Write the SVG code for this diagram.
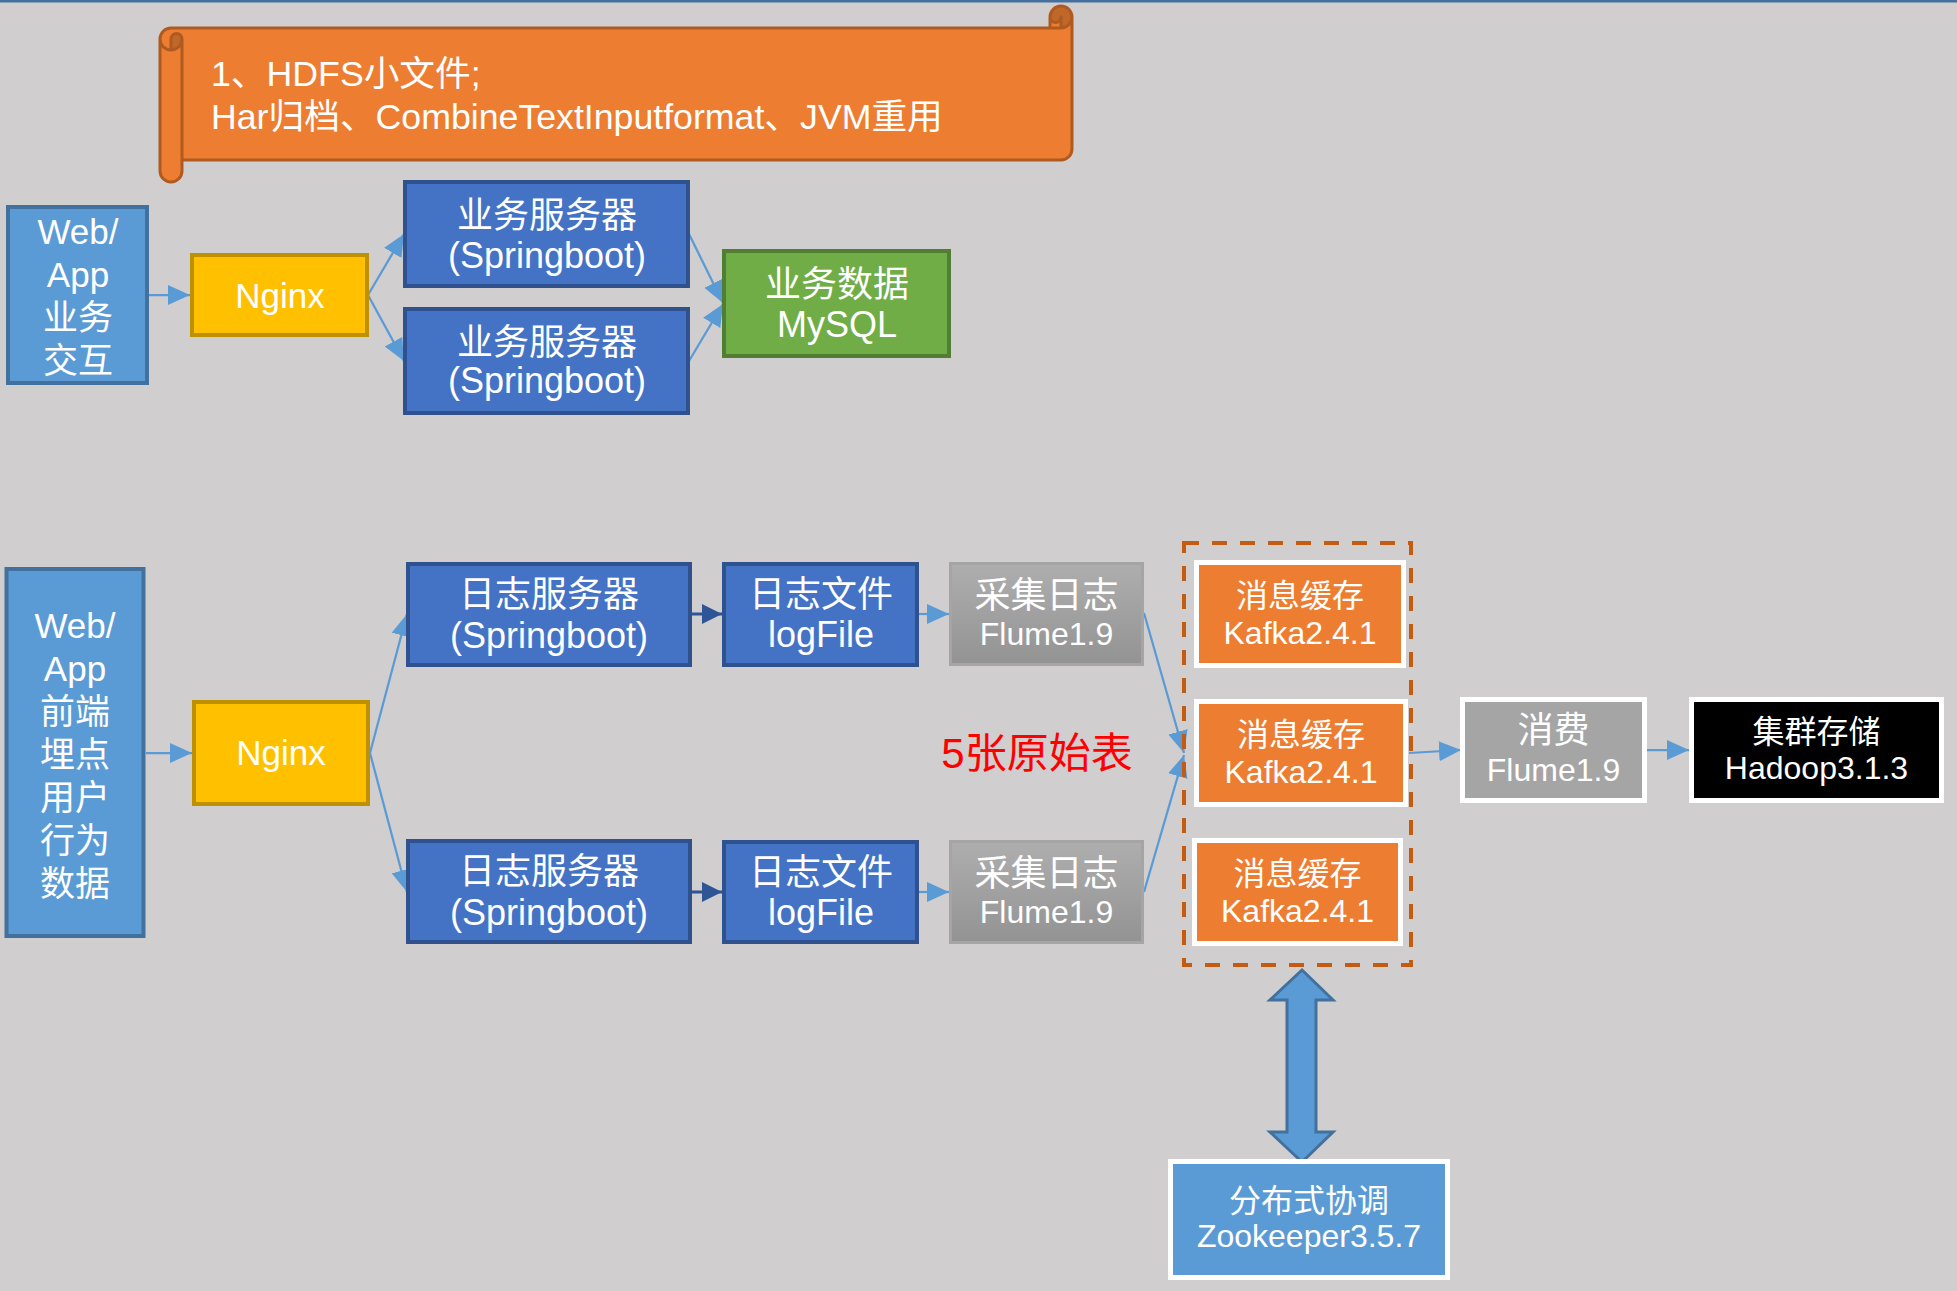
<svg xmlns="http://www.w3.org/2000/svg" width="1957" height="1291" viewBox="0 0 1957 1291">
<style>
.t{font-family:"Liberation Sans","Noto Sans CJK SC",sans-serif;fill:#fff;text-anchor:middle}
.s36{font-size:36px}.s35{font-size:35px}.s32{font-size:32px}
.lb{fill:#5B9BD5;stroke:#41719C;stroke-width:4}
.db{fill:#4472C4;stroke:#2F528F;stroke-width:4}
.ng{fill:#FFC000;stroke:#BF9000;stroke-width:4}
.gr{fill:url(#gg);stroke:#A5A5A5;stroke-width:3}
.kf{fill:#ED7D31;stroke:#fff;stroke-width:5}
.c{fill:none;stroke:#5B9BD5;stroke-width:2.25}
.cd{fill:none;stroke:#2F5597;stroke-width:3}
</style>
<defs>
<linearGradient id="gg" x1="0" y1="0" x2="0" y2="1">
<stop offset="0" stop-color="#AEAEAE"/><stop offset="1" stop-color="#939393"/>
</linearGradient>
<marker id="a" markerUnits="userSpaceOnUse" markerWidth="22" markerHeight="22" viewBox="0 0 22 22" refX="22" refY="11" orient="auto">
<path d="M0,1 L22,11 L0,21 Z" fill="#5B9BD5"/>
</marker>
<marker id="ad" markerUnits="userSpaceOnUse" markerWidth="20" markerHeight="22" viewBox="0 0 20 22" refX="20" refY="11" orient="auto">
<path d="M0,1 L20,11 L0,21 Z" fill="#2F5597"/>
</marker>
</defs>
<rect x="0" y="0" width="1957" height="1291" fill="#D0CECE"/>
<rect x="0" y="0" width="1957" height="2.5" fill="#44709D"/>

<g id="banner">
<path d="M1072,17 A11,11 0 0 1 1061,28 L1061,17 A5.5,5.5 0 0 1 1050,17 L1050,28 L171,28 A11,11 0 0 0 160,39 L160,171 A11,11 0 0 0 182,171 L182,160 L1061,160 A11,11 0 0 0 1072,149 Z M171,50 A11,11 0 0 0 182,39 A5.5,5.5 0 0 0 171,39 Z" fill="#ED7D31"/>
<path d="M171,50 A11,11 0 0 0 182,39 A5.5,5.5 0 0 0 171,39 Z M1061,28 A11,11 0 1 0 1050,17 A5.5,5.5 0 0 0 1061,17 Z" fill="#C0672A"/>
<path d="M160,39 A11,11 0 0 1 171,28 L1050,28 L1050,17 A11,11 0 0 1 1072,17 L1072,149 A11,11 0 0 1 1061,160 L182,160 L182,171 A11,11 0 0 1 160,171 Z M1050,28 L1061,28 A11,11 0 0 0 1072,17 M1061,28 L1061,17 A5.5,5.5 0 0 1 1050,17 M171,50 L171,39 A5.5,5.5 0 0 1 182,39 A11,11 0 0 1 160,39 M182,39 L182,160" fill="none" stroke="#AE5A21" stroke-width="3" stroke-linejoin="round"/>
<text class="t" style="text-anchor:start;font-size:35.7px" x="211" y="86">1、HDFS小文件;</text>
<text class="t" style="text-anchor:start;font-size:35.7px" x="211" y="129">Har归档、CombineTextInputformat、JVM重用</text>
</g>

<g id="connectors">
<line class="c" x1="149" y1="295" x2="190" y2="295" marker-end="url(#a)"/>
<line class="c" x1="368" y1="295" x2="404" y2="234" marker-end="url(#a)"/>
<line class="c" x1="368" y1="295" x2="404" y2="361" marker-end="url(#a)"/>
<line class="c" x1="689" y1="234" x2="723" y2="303" marker-end="url(#a)"/>
<line class="c" x1="689" y1="361" x2="723" y2="304" marker-end="url(#a)"/>
<line class="c" x1="146" y1="753" x2="192" y2="753" marker-end="url(#a)"/>
<line class="c" x1="370" y1="753" x2="407" y2="614" marker-end="url(#a)"/>
<line class="c" x1="370" y1="753" x2="407" y2="892" marker-end="url(#a)"/>
<line class="cd" x1="691" y1="614" x2="722" y2="614" marker-end="url(#ad)"/>
<line class="cd" x1="691" y1="892" x2="722" y2="892" marker-end="url(#ad)"/>
<line class="c" x1="919" y1="614" x2="949" y2="614" marker-end="url(#a)"/>
<line class="c" x1="919" y1="892" x2="949" y2="892" marker-end="url(#a)"/>
<line class="c" x1="1144" y1="613" x2="1184" y2="753" marker-end="url(#a)"/>
<line class="c" x1="1144" y1="892" x2="1184" y2="755" marker-end="url(#a)"/>
<line class="c" x1="1409" y1="753" x2="1461" y2="750" marker-end="url(#a)"/>
<line class="c" x1="1647" y1="750" x2="1689" y2="750" marker-end="url(#a)"/>
</g>

<g id="webapp-biz">
<rect class="lb" x="8" y="207" width="139" height="176"/>
<text class="t s35" x="78" y="244">Web/</text>
<text class="t s35" x="78" y="287">App</text>
<text class="t s35" x="78" y="330">业务</text>
<text class="t s35" x="78" y="373">交互</text>
</g>
<g id="nginx-biz">
<rect class="ng" x="192" y="255" width="175" height="80"/>
<text class="t s35" x="280" y="308">Nginx</text>
</g>
<g id="biz-server-1">
<rect class="db" x="405" y="182" width="283" height="104"/>
<text class="t s36" x="547" y="228">业务服务器</text>
<text class="t s36" x="547" y="268">(Springboot)</text>
</g>
<g id="biz-server-2">
<rect class="db" x="405" y="309" width="283" height="104"/>
<text class="t s36" x="547" y="355">业务服务器</text>
<text class="t s36" x="547" y="393">(Springboot)</text>
</g>
<g id="mysql">
<rect x="724" y="251" width="225" height="105" fill="#70AD47" stroke="#507E32" stroke-width="4"/>
<text class="t s36" x="837" y="297">业务数据</text>
<text class="t s36" x="837" y="337">MySQL</text>
</g>

<g id="webapp-log">
<rect class="lb" x="6.5" y="569" width="137" height="367"/>
<text class="t s35" x="75" y="638">Web/</text>
<text class="t s35" x="75" y="681">App</text>
<text class="t s35" x="75" y="724">前端</text>
<text class="t s35" x="75" y="767">埋点</text>
<text class="t s35" x="75" y="810">用户</text>
<text class="t s35" x="75" y="853">行为</text>
<text class="t s35" x="75" y="896">数据</text>
</g>
<g id="nginx-log">
<rect class="ng" x="194" y="702" width="174" height="102"/>
<text class="t s35" x="281" y="765">Nginx</text>
</g>
<g id="log-server-1">
<rect class="db" x="408" y="564" width="282" height="101"/>
<text class="t s36" x="549" y="607">日志服务器</text>
<text class="t s36" x="549" y="648">(Springboot)</text>
</g>
<g id="log-server-2">
<rect class="db" x="408" y="841" width="282" height="101"/>
<text class="t s36" x="549" y="884">日志服务器</text>
<text class="t s36" x="549" y="925">(Springboot)</text>
</g>
<g id="logfile-1">
<rect class="db" x="724" y="564" width="193" height="101"/>
<text class="t s36" x="821" y="607">日志文件</text>
<text class="t s36" x="821" y="647">logFile</text>
</g>
<g id="logfile-2">
<rect class="db" x="724" y="842" width="193" height="100"/>
<text class="t s36" x="821" y="885">日志文件</text>
<text class="t s36" x="821" y="925">logFile</text>
</g>
<g id="flume-collect-1">
<rect class="gr" x="950.5" y="563.5" width="192" height="101"/>
<text class="t s36" x="1046.5" y="608">采集日志</text>
<text class="t s32" x="1046.5" y="645">Flume1.9</text>
</g>
<g id="flume-collect-2">
<rect class="gr" x="950.5" y="841.5" width="192" height="101"/>
<text class="t s36" x="1046.5" y="886">采集日志</text>
<text class="t s32" x="1046.5" y="923">Flume1.9</text>
</g>
<g id="label-tables">
<text x="1037" y="768" style="font-family:'Liberation Sans','Noto Sans CJK SC',sans-serif;font-size:42px;fill:#FF0000;text-anchor:middle">5张原始表</text>
</g>
<g id="kafka-cluster">
<rect x="1184" y="543" width="227" height="422" fill="none" stroke="#C55A11" stroke-width="4" stroke-dasharray="15 13"/>
</g>
<g id="kafka-1">
<rect class="kf" x="1196.5" y="562.5" width="207" height="103"/>
<text class="t s32" x="1300" y="607">消息缓存</text>
<text class="t s32" x="1300" y="644">Kafka2.4.1</text>
</g>
<g id="kafka-2">
<rect class="kf" x="1196.5" y="701.5" width="209" height="103"/>
<text class="t s32" x="1301" y="746">消息缓存</text>
<text class="t s32" x="1301" y="783">Kafka2.4.1</text>
</g>
<g id="kafka-3">
<rect class="kf" x="1194.5" y="840.5" width="206" height="103"/>
<text class="t s32" x="1297.5" y="885">消息缓存</text>
<text class="t s32" x="1297.5" y="922">Kafka2.4.1</text>
</g>
<g id="flume-consume">
<rect x="1462.5" y="699.5" width="182" height="101" fill="#A5A5A5" stroke="#fff" stroke-width="5"/>
<text class="t s36" x="1553.5" y="743">消费</text>
<text class="t s32" x="1553.5" y="781">Flume1.9</text>
</g>
<g id="hadoop">
<rect x="1691.5" y="699.5" width="250" height="101" fill="#000" stroke="#fff" stroke-width="5"/>
<text class="t s32" x="1816.5" y="743">集群存储</text>
<text class="t s32" x="1816.5" y="779">Hadoop3.1.3</text>
</g>
<g id="zk-arrow">
<polygon points="1302,970 1333,1000 1316,1000 1316,1132 1333,1132 1302,1162 1270,1132 1287,1132 1287,1000 1270,1000" fill="#5B9BD5" stroke="#41719C" stroke-width="3" stroke-linejoin="miter"/>
</g>
<g id="zookeeper">
<rect x="1170.5" y="1161.5" width="277" height="116" fill="#5B9BD5" stroke="#fff" stroke-width="5"/>
<text class="t s32" x="1309" y="1212">分布式协调</text>
<text class="t s32" x="1309" y="1247">Zookeeper3.5.7</text>
</g>
</svg>
